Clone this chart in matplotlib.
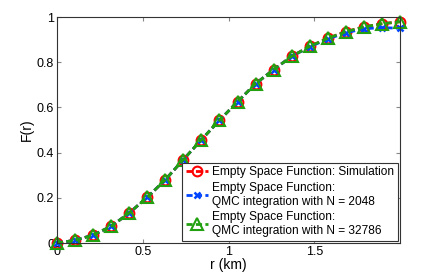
import matplotlib
matplotlib.use('Agg')
import matplotlib.pyplot as plt
import numpy as np

r_km = np.linspace(0, 2, 20)
f_sim = [0.0, 0.012, 0.035, 0.074, 0.133, 0.202, 0.280, 0.369, 0.457, 0.543,
         0.625, 0.705, 0.767, 0.826, 0.870, 0.906, 0.935, 0.956, 0.970, 0.979]
f_qmc_2048 = [0.0, 0.012, 0.035, 0.074, 0.133, 0.202, 0.280, 0.369, 0.457, 0.543,
              0.625, 0.705, 0.767, 0.826, 0.868, 0.903, 0.930, 0.948, 0.953, 0.950]
f_qmc_32786 = [0.0, 0.012, 0.035, 0.074, 0.133, 0.202, 0.280, 0.369, 0.457, 0.543,
               0.625, 0.705, 0.767, 0.826, 0.870, 0.906, 0.935, 0.956, 0.970, 0.979]

plt.rcParams['font.family'] = ['Liberation Sans', 'DejaVu Sans']

fig = plt.figure(figsize=(4.43, 2.77), dpi=100)
ax = fig.add_axes([57 / 443, 34 / 277, 343 / 443, 226 / 277])

ax.plot(r_km, f_sim, '--o', color='#ff0000', mfc='none', mew=1.5, ms=7, lw=2,
        dashes=(2.2, 1.2), label='Empty Space Function: Simulation')
ax.plot(r_km, f_qmc_2048, '--x', color='#0044ff', mew=1.8, ms=5, lw=2,
        dashes=(2.2, 1.2), label='Empty Space Function:\nQMC integration with N = 2048')
ax.plot(r_km, f_qmc_32786, '--^', color='#22a010', mfc='none', mew=1.5, ms=8, lw=2,
        dashes=(2.2, 1.2), label='Empty Space Function:\nQMC integration with N = 32786')

ax.set_xlim(0, 2)
ax.set_ylim(0, 1)
ax.set_xticks([0, 0.5, 1, 1.5])
ax.set_xticklabels(['0', '0.5', '1', '1.5'])
ax.set_yticks([0, 0.2, 0.4, 0.6, 0.8, 1])
ax.set_yticklabels(['0', '0.2', '0.4', '0.6', '0.8', '1'])
ax.tick_params(direction='in', top=True, right=True, labelsize=9, length=3,
               color='#888888', pad=2)
for s in ax.spines.values():
    s.set_color('#333333')
    s.set_linewidth(0.8)
ax.set_xlabel('r (km)', fontsize=10, labelpad=0)
ax.set_ylabel('F(r)', fontsize=10, labelpad=2)

for line in ax.get_lines():
    line.set_clip_on(False)

leg = ax.legend(loc='lower right', fontsize=8.6, handlelength=1.9, handletextpad=0.3,
                borderpad=0.3, labelspacing=0.3, borderaxespad=0.2, fancybox=False,
                framealpha=1, edgecolor='#333333')
leg.get_frame().set_linewidth(0.8)

fig.savefig('out.png', dpi=100)
